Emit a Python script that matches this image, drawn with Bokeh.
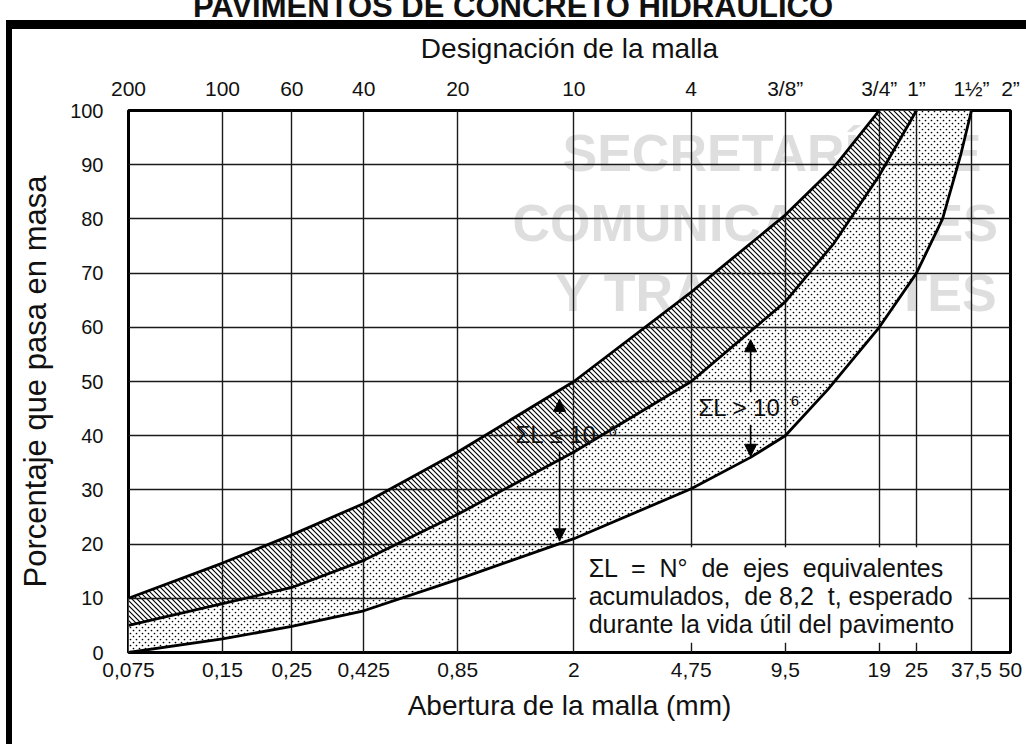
import base64
from bokeh.plotting import figure
from bokeh.layouts import column, row
from bokeh.models import (LogAxis, FixedTicker, Label, Arrow, NormalHead, BoxAnnotation, Range1d,
                          Div, ImageURLTexture)
from bokeh.embed import file_html
from bokeh.resources import INLINE

FONT = "Liberation Sans"
INK = "#111111"

# ---- data ----
sieve_mm = [0.075, 0.15, 0.25, 0.425, 0.85, 2, 4.75, 9.5, 19, 25, 37.5, 50]
opening_labels = ["0,075", "0,15", "0,25", "0,425", "0,85", "2", "4,75", "9,5", "19", "25", "37,5", "50"]
mesh_labels = ["200", "100", "60", "40", "20", "10", "4", "3/8\u201d", "3/4\u201d", "1\u201d", "1\u00bd\u201d", "2\u201d"]
pct_ticks = [0, 10, 20, 30, 40, 50, 60, 70, 80, 90, 100]

upper_x = [0.075, 0.15, 0.25, 0.425, 0.85, 2, 4.75, 9.5, 13.6, 19]
upper_y = [10, 16.5, 21.7, 27.5, 37, 50, 66.5, 80.7, 89.5, 100]
middle_x = [0.075, 0.15, 0.25, 0.425, 0.85, 2, 4.75, 9.5, 13.6, 19, 25]
middle_y = [5, 9, 12, 17, 25.5, 37, 50, 64.7, 75.5, 88, 100]
lower_x = [0.075, 0.15, 0.25, 0.425, 0.85, 2, 4.75, 7.36, 9.5, 13, 19, 25, 30.3, 34.6, 37.5]
lower_y = [0, 2.5, 4.8, 7.7, 13.5, 21, 30.2, 36, 40, 48.5, 60, 70, 80, 91.7, 100]

# arrows (x in mm, y in %)
arrow_le_x = 1.8
arrow_le_up = (44.0, 46.7)
arrow_le_down = (37.0, 20.6)
arrow_gt_x = 7.36
arrow_gt_up = (48.0, 57.7)
arrow_gt_down = (42.0, 36.2)

FIG_W, FIG_H = 1014, 715
PX_PER_PCT = 5.44   # used only to lift text baselines

p = figure(width=FIG_W, height=FIG_H, x_axis_type="log",
           x_range=Range1d(0.075, 50), y_range=Range1d(0, 100),
           output_backend="svg", toolbar_location=None,
           min_border_left=116, min_border_right=16, min_border_top=79, min_border_bottom=92,
           background_fill_color="white", border_fill_color="white")
p.outline_line_color = "black"
p.outline_line_width = 3

sieve_ticker = FixedTicker(ticks=sieve_mm, minor_ticks=[])
pct_ticker = FixedTicker(ticks=pct_ticks, minor_ticks=[])

def style_axis(ax, standoff, label_standoff, title_size="28px"):
    ax.axis_line_color = None
    ax.major_tick_line_color = None
    ax.minor_tick_line_color = None
    ax.major_tick_out = 0
    ax.major_tick_in = 0
    ax.major_label_standoff = standoff
    ax.major_label_text_font = FONT
    ax.major_label_text_font_size = "21px"
    ax.major_label_text_color = INK
    ax.axis_label_text_font = FONT
    ax.axis_label_text_font_size = title_size
    ax.axis_label_text_font_style = "normal"
    ax.axis_label_text_color = INK
    ax.axis_label_standoff = label_standoff

xa = p.xaxis[0]
xa.ticker = sieve_ticker
xa.major_label_overrides = dict(zip(sieve_mm, opening_labels))
xa.axis_label = "Abertura de la malla (mm)"
style_axis(xa, 10, 10)

ya = p.yaxis[0]
ya.ticker = pct_ticker
ya.axis_label = "Porcentaje que pasa en masa"
style_axis(ya, 25, 14, "31px")
ya.major_label_text_font_size = "20px"

ta = LogAxis(ticker=sieve_ticker, major_label_overrides=dict(zip(sieve_mm, mesh_labels)),
             axis_label="Designaci\u00f3n de la malla")
style_axis(ta, 11, 10)
p.add_layout(ta, "above")

p.xgrid.ticker = sieve_ticker
p.ygrid.ticker = pct_ticker
for g in (p.xgrid[0], p.ygrid[0]):
    g.grid_line_color = "#1a1a1a"
    g.grid_line_width = 1.4

# watermark (light grey, underneath everything)
for txt, sx, sy in [("SECRETAR\u00cdA DE", 434, 500), ("COMUNICACIONES", 384, 430), ("Y TRANSPORTES", 427, 360)]:
    p.add_layout(Label(x=sx, y=sy, x_units="screen", y_units="screen", text=txt, level="image",
                       text_font=FONT, text_font_size="52px", text_font_style="bold",
                       text_color="#dedede", text_baseline="alphabetic"))

def svg_url(svg):
    return "data:image/svg+xml;base64," + base64.b64encode(svg.encode()).decode()

diag_tile = svg_url("<svg xmlns='http://www.w3.org/2000/svg' width='10' height='10'>"
                    "<path d='M-1 -11L11 1M-1 -6L11 6M-1 -1L11 11M-1 4L11 16M-1 9L11 21' "
                    "stroke='#000' stroke-width='1.15' fill='none'/></svg>")
dot_tile = svg_url("<svg xmlns='http://www.w3.org/2000/svg' width='6' height='6'>"
                   "<circle cx='1.5' cy='1.5' r='0.85' fill='#000'/>"
                   "<circle cx='4.5' cy='4.5' r='0.85' fill='#000'/></svg>")

# bands
band_hi_x = upper_x + middle_x[::-1]
band_hi_y = upper_y + middle_y[::-1]
band_lo_x = middle_x + lower_x[::-1]
band_lo_y = middle_y + lower_y[::-1]
p.patch(band_hi_x, band_hi_y, fill_color="white", line_color=None, level="underlay",
        hatch_pattern="diag", hatch_extra={"diag": ImageURLTexture(url=diag_tile)})
p.patch(band_lo_x, band_lo_y, fill_color="white", line_color=None, level="underlay",
        hatch_pattern="dots", hatch_extra={"dots": ImageURLTexture(url=dot_tile)})

for xs, ys in [(upper_x, upper_y), (middle_x, middle_y), (lower_x, lower_y)]:
    p.line(xs, ys, line_color="black", line_width=2.8, line_join="round")

# note box
p.add_layout(BoxAnnotation(left=2.03, right=36.7, bottom=1.8, top=19.4,
                           fill_color="white", fill_alpha=1, line_color=None))

def arrow(x, y0, y1):
    p.add_layout(Arrow(x_start=x, y_start=y0, x_end=x, y_end=y1, line_width=1.6, line_color="black",
                       end=NormalHead(size=12, fill_color="black", line_color="black", line_width=1)))
arrow(arrow_le_x, *arrow_le_up)
arrow(arrow_le_x, *arrow_le_down)
arrow(arrow_gt_x, *arrow_gt_up)
arrow(arrow_gt_x, *arrow_gt_down)

def label(x, y, text, size_px):
    lift = 0.38 * size_px / PX_PER_PCT
    p.add_layout(Label(x=x, y=y + lift, text=text, text_font=FONT, text_font_size=f"{size_px}px",
                       text_color=INK, text_baseline="alphabetic"))

label(1.30, 38.6, "\u03a3L \u2264 10", 24)
label(2.58, 39.9, "6", 15)
label(5.01, 43.6, "\u03a3L > 10", 24)
label(9.89, 45.4, "6", 15)

g1 = " \u00a0"
label(2.23, 13.8, g1.join(["\u03a3L", "=", "N\u00b0", "de", "ejes", "equivalentes"]), 25)
label(2.23, 8.64, "acumulados, \u00a0de 8,2 \u00a0t, esperado", 25)
label(2.23, 3.49, "durante la vida \u00fatil del pavimento", 25)

# page decorations: cut-off title and black frame edges of the source page
title_html = (
    "<div style=\"position:relative;width:1026px;height:29px;overflow:hidden;background:#fff;margin:0;padding:0\">"
    "<div style=\"position:absolute;left:6px;top:20px;width:1020px;height:9px;background:#000\"></div>"
    "<div style=\"position:absolute;left:0;top:-9px;width:1026px;text-align:center;"
    "font-family:'Liberation Sans';font-weight:bold;font-size:31px;line-height:31px;color:#111;"
    "white-space:nowrap\">PAVIMENTOS DE CONCRETO HIDR\u00c1ULICO</div></div>")
top_div = Div(text=title_html, width=1026, height=29, styles={"overflow": "hidden", "margin": "0", "padding": "0"})
bar_div = Div(text="", width=12, height=FIG_H,
              styles={"background": "linear-gradient(to right, #fff 0px, #fff 6px, #000 6px, #000 12px)",
                      "margin": "0", "padding": "0"})

layout = column(top_div, row(bar_div, p, spacing=0), spacing=0)

open("out.html", "w").write(file_html(layout, INLINE))
